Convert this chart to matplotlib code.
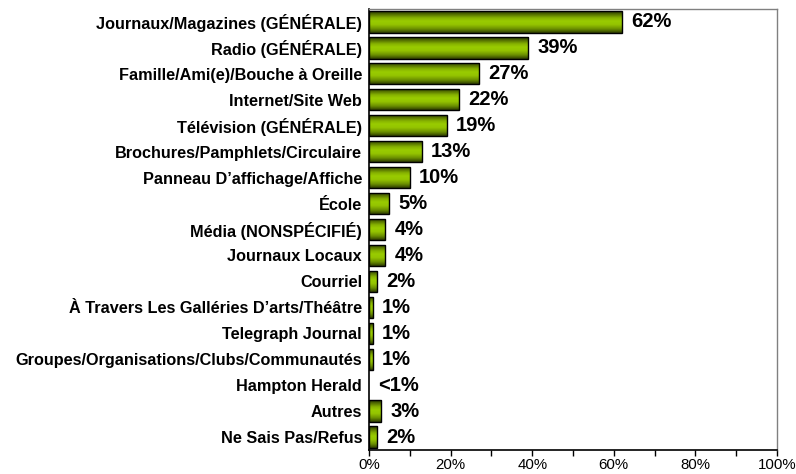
import matplotlib
matplotlib.use("Agg")
import matplotlib.pyplot as plt
import numpy as np
from matplotlib.colors import LinearSegmentedColormap
from matplotlib.ticker import MultipleLocator, FuncFormatter

categories = [
    "Journaux/Magazines (GÉNÉRALE)",
    "Radio (GÉNÉRALE)",
    "Famille/Ami(e)/Bouche à Oreille",
    "Internet/Site Web",
    "Télévision (GÉNÉRALE)",
    "Brochures/Pamphlets/Circulaire",
    "Panneau D’affichage/Affiche",
    "École",
    "Média (NONSPÉCIFIÉ)",
    "Journaux Locaux",
    "Courriel",
    "À Travers Les Galléries D’arts/Théâtre",
    "Telegraph Journal",
    "Groupes/Organisations/Clubs/Communautés",
    "Hampton Herald",
    "Autres",
    "Ne Sais Pas/Refus",
]
values = [62, 39, 27, 22, 19, 13, 10, 5, 4, 4, 2, 1, 1, 1, 0, 3, 2]
value_labels = ["62%", "39%", "27%", "22%", "19%", "13%", "10%", "5%", "4%", "4%",
                "2%", "1%", "1%", "1%", "<1%", "3%", "2%"]

plt.rcParams['font.family'] = ['Liberation Sans', 'DejaVu Sans']

W, H = 796, 474
fig = plt.figure(figsize=(W / 100, H / 100), dpi=100)
ax = fig.add_axes([369 / W, 1 - 450 / H, (777 - 369) / W, (450 - 9) / H])

cmap = LinearSegmentedColormap.from_list("olive", [
    (0.0, "#263300"), (0.12, "#4d6600"), (0.3, "#85b000"), (0.45, "#99cc00"),
    (0.62, "#94c400"), (0.82, "#6b8f00"), (1.0, "#2e3d00")])
grad = np.linspace(0, 1, 64).reshape(-1, 1)

y = np.arange(len(categories))
bh = 0.82
bars = ax.barh(y, values, height=bh, facecolor="none", edgecolor="black",
               linewidth=1.0, zorder=3)
for bar, v, yy in zip(bars, values, y):
    if v <= 0:
        bar.set_visible(False)
        continue
    im = ax.imshow(grad, cmap=cmap, aspect="auto",
                   extent=[0, v, yy + bh / 2, yy - bh / 2],
                   origin="upper", zorder=2, interpolation="bilinear")
    im.set_clip_path(bar)

for v, yy, lab in zip(values, y, value_labels):
    ax.annotate(lab, xy=(v, yy), xytext=(6.5, 0), textcoords="offset points",
                ha="left", va="center", fontsize=14.5, fontweight="bold", color="black")

ax.set_xlim(0, 100)
ax.set_ylim(len(categories) - 0.5, -0.5)
ax.set_yticks(y)
ax.set_yticklabels(categories, fontsize=11.7, fontweight="bold")
ax.tick_params(axis="y", length=0, pad=5)
ax.xaxis.set_major_locator(MultipleLocator(20))
ax.xaxis.set_minor_locator(MultipleLocator(10))
ax.xaxis.set_major_formatter(FuncFormatter(lambda x, p: f"{int(x)}%"))
ax.tick_params(axis="x", which="both", direction="out", length=4, width=1,
               labelsize=10.8, pad=2)
for s in ["left", "bottom"]:
    ax.spines[s].set_color("black")
    ax.spines[s].set_linewidth(1.2)
for s in ["top", "right"]:
    ax.spines[s].set_color("#808080")
    ax.spines[s].set_linewidth(1.0)

fig.savefig("out.png", dpi=100)
